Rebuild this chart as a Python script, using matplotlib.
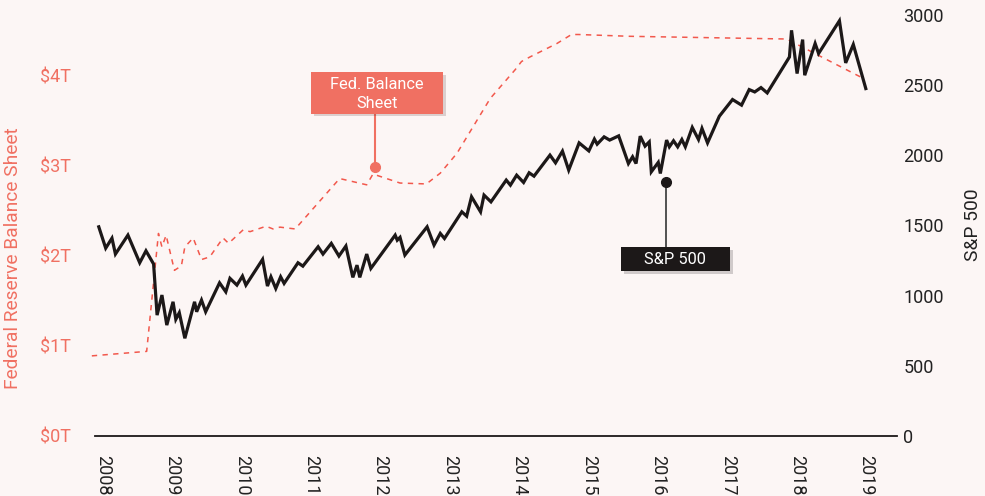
import matplotlib
matplotlib.use("Agg")
import matplotlib.pyplot as plt
import matplotlib.patches as patches
import matplotlib.patheffects as pe

# S&P 500 (decimal year, index level)
sp_years = [2007.94, 2008.04, 2008.13, 2008.18, 2008.36, 2008.53, 2008.62, 2008.73,
            2008.78, 2008.85, 2008.92, 2009.01, 2009.05, 2009.10, 2009.18, 2009.32,
            2009.35, 2009.42, 2009.48, 2009.68, 2009.77, 2009.83, 2009.93, 2010.01,
            2010.06, 2010.30, 2010.37, 2010.42, 2010.49, 2010.56, 2010.61, 2010.81,
            2010.88, 2011.10, 2011.17, 2011.29, 2011.40, 2011.50, 2011.60, 2011.66,
            2011.70, 2011.80, 2011.86, 2012.21, 2012.24, 2012.28, 2012.35, 2012.67,
            2012.77, 2012.86, 2012.92, 2013.17, 2013.24, 2013.31, 2013.44, 2013.49,
            2013.59, 2013.81, 2013.87, 2013.96, 2014.06, 2014.14, 2014.21, 2014.44,
            2014.52, 2014.62, 2014.71, 2014.86, 2015.00, 2015.08, 2015.12, 2015.22,
            2015.30, 2015.43, 2015.57, 2015.63, 2015.68, 2015.74, 2015.81, 2015.87,
            2015.90, 2016.00, 2016.03, 2016.12, 2016.16, 2016.22, 2016.28, 2016.34,
            2016.39, 2016.49, 2016.58, 2016.63, 2016.71, 2016.88, 2017.07, 2017.20,
            2017.31, 2017.39, 2017.48, 2017.57, 2017.89, 2017.92, 2018.00, 2018.08,
            2018.11, 2018.26, 2018.31, 2018.61, 2018.70, 2018.81, 2018.99]
sp_values = [1490, 1338, 1409, 1296, 1431, 1234, 1319, 1225,
             861, 1004, 790, 956, 831, 878, 696, 956,
             885, 968, 885, 1091, 1027, 1123, 1075, 1139,
             1075, 1258, 1068, 1134, 1051, 1134, 1087, 1234,
             1210, 1348, 1296, 1372, 1282, 1353, 1130, 1217,
             1130, 1296, 1194, 1431, 1395, 1415, 1289, 1490,
             1360, 1443, 1407, 1597, 1566, 1704, 1597, 1716,
             1668, 1823, 1787, 1858, 1806, 1875, 1851, 2001,
             1946, 2029, 1894, 2088, 2031, 2115, 2079, 2131,
             2108, 2138, 1941, 1989, 1941, 2136, 2065, 2095,
             1882, 1949, 1870, 2108, 2060, 2103, 2060, 2112,
             2060, 2198, 2112, 2191, 2088, 2278, 2397, 2357,
             2468, 2451, 2482, 2444, 2700, 2890, 2582, 2824,
             2570, 2796, 2725, 2958, 2658, 2789, 2475]

# Fed balance sheet (decimal year, trillions of dollars)
fed_years = [2007.84, 2008.63, 2008.80, 2008.85, 2008.91, 2009.03, 2009.13, 2009.18,
             2009.30, 2009.42, 2009.54, 2009.73, 2009.81, 2010.02, 2010.12, 2010.35,
             2010.45, 2010.55, 2010.77, 2011.41, 2011.80, 2011.89, 2012.28, 2012.66,
             2012.86, 2013.10, 2013.58, 2013.94, 2014.03, 2014.15, 2014.54, 2014.75,
             2014.85, 2015.59, 2017.85, 2018.91]
fed_values = [0.89, 0.94, 2.25, 2.10, 2.23, 1.84, 1.89, 2.10,
              2.20, 1.96, 1.99, 2.20, 2.14, 2.29, 2.27, 2.33,
              2.30, 2.32, 2.30, 2.86, 2.79, 2.91, 2.81, 2.80,
              2.92, 3.14, 3.75, 4.07, 4.16, 4.21, 4.36, 4.46,
              4.46, 4.44, 4.41, 3.99]

year_ticks = list(range(2008, 2020))
fed_ticks = [0, 1, 2, 3, 4]
fed_labels = ["$0T", "$1T", "$2T", "$3T", "$4T"]
sp_ticks = [0, 500, 1000, 1500, 2000, 2500, 3000]

bg = "#fcf6f5"
salmon = "#f07062"
red_line = "#f2584c"
dark = "#1c1818"

plt.rcParams["font.family"] = ["Roboto", "DejaVu Sans"]

fig = plt.figure(figsize=(9.85, 4.96), dpi=100, facecolor=bg)
ax = fig.add_axes([0.0964, 0.121, 0.8143, 0.849])
ax.set_facecolor(bg)
ax2 = ax.twinx()

# Fed balance sheet
fed_line, = ax.plot(fed_years, fed_values, color=red_line, lw=1.1, clip_on=False)
fed_line.set_dashes((3.5, 3.5))

# S&P 500
ax2.plot(sp_years, sp_values, color=dark, lw=2.3, solid_joinstyle="miter", clip_on=False)

ax.set_xlim(2007.885, 2019.44)
ax.set_ylim(0, 4.678)
ax2.set_ylim(0, 3000)

for a in (ax, ax2):
    for s in a.spines.values():
        s.set_visible(False)
ax.spines["bottom"].set_visible(True)
ax.spines["bottom"].set_color(dark)
ax.spines["bottom"].set_linewidth(1.3)

ax.set_xticks(year_ticks)
ax.set_xticklabels([str(y) for y in year_ticks], rotation=270, fontsize=13, color="#222222")
ax.set_yticks(fed_ticks)
ax.set_yticklabels(fed_labels, fontsize=13, color=salmon)
ax2.set_yticks(sp_ticks)
ax2.set_yticklabels([str(v) for v in sp_ticks], fontsize=13, color="#222222")
ax.tick_params(axis="x", length=0, pad=13.5)
ax.tick_params(axis="y", length=0, pad=17)
ax2.tick_params(axis="y", length=0, pad=4.5)

fig.text(13 / 985, 1 - 258 / 496, "Federal Reserve Balance Sheet", color=salmon,
         fontsize=13.8, rotation=90, ha="center", va="center")
fig.text(973 / 985, 1 - 225 / 496, "S&P 500", color="#222222",
         fontsize=13.8, rotation=90, ha="center", va="center")

shadow = [pe.SimplePatchShadow(offset=(2, -2), alpha=0.18), pe.Normal()]

# Fed annotation
ax.plot([2011.92, 2011.92], [2.99, 3.58], color=salmon, lw=1.5)
ax.plot(2011.92, 2.99, "o", color=salmon, ms=7)
ax.add_patch(patches.Rectangle((2011.00, 3.58), 1.90, 0.46, facecolor=salmon,
                               edgecolor="none", path_effects=shadow, zorder=3))
ax.text(2011.95, 3.80, "Fed. Balance\nSheet", color="white", fontsize=11.8,
        ha="center", va="center", linespacing=1.3, zorder=4)

# S&P annotation
ax2.plot([2016.11, 2016.11], [1806, 1346], color="#444444", lw=1.3)
ax2.plot(2016.11, 1806, "o", color=dark, ms=7)
ax2.add_patch(patches.Rectangle((2015.46, 1175), 1.57, 171, facecolor=dark,
                                edgecolor="none", path_effects=shadow, zorder=3))
ax2.text(2016.245, 1260, "S&P 500", color="white", fontsize=11.8,
         ha="center", va="center", zorder=4)

fig.savefig("out.png", dpi=100, facecolor=bg)
